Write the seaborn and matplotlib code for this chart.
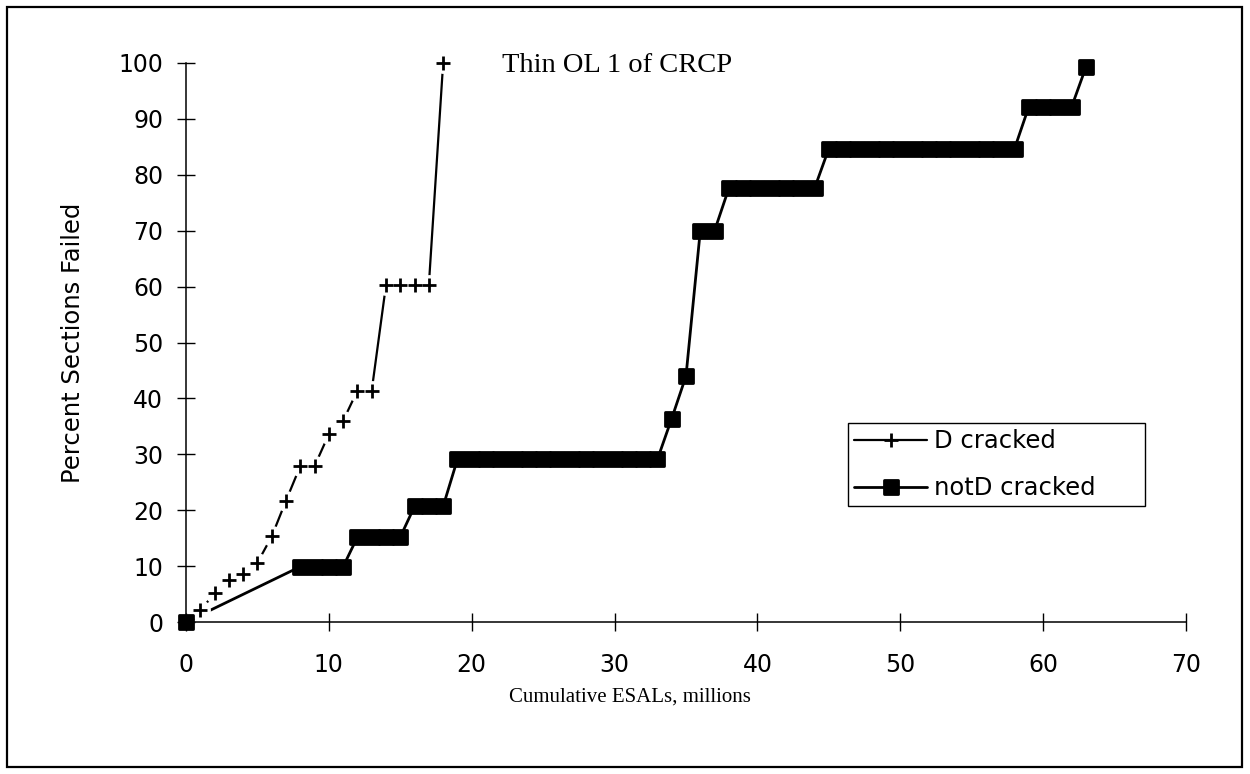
import matplotlib
matplotlib.use("Agg")
import matplotlib.pyplot as plt
import seaborn as sns
from matplotlib.markers import MarkerStyle
from matplotlib.lines import Line2D
from matplotlib.patches import Rectangle

# ---------------- data ----------------
d_label = "D cracked"
d_x = [1, 2, 3, 4, 5, 6, 7, 8, 9, 10, 11, 12, 13, 14, 15, 16, 17, 18]
d_y = [2.1, 5.1, 7.5, 8.6, 10.6, 15.3, 21.7, 27.9, 27.9, 33.6, 36.0, 41.4,
       41.4, 60.3, 60.3, 60.3, 60.3, 100.0]

n_label = "notD cracked"
n_x = [0, 8, 9, 10, 11, 12, 13, 14, 15, 16, 17, 18,
       19, 20, 21, 22, 23, 24, 25, 26, 27, 28, 29, 30, 31, 32, 33,
       34, 35, 36, 37, 38, 39, 40, 41, 42, 43, 44,
       45, 46, 47, 48, 49, 50, 51, 52, 53, 54, 55, 56, 57, 58,
       59, 60, 61, 62, 63]
n_y = [0.0, 9.9, 9.9, 9.9, 9.9, 15.2, 15.2, 15.2, 15.2, 20.7, 20.7, 20.7,
       29.1, 29.1, 29.1, 29.1, 29.1, 29.1, 29.1, 29.1, 29.1, 29.1, 29.1, 29.1, 29.1, 29.1, 29.1,
       36.4, 44.0, 70.0, 70.0, 77.6, 77.6, 77.6, 77.6, 77.6, 77.6, 77.6,
       84.7, 84.7, 84.7, 84.7, 84.7, 84.7, 84.7, 84.7, 84.7, 84.7, 84.7, 84.7, 84.7, 84.7,
       92.2, 92.2, 92.2, 92.2, 99.3]

x_ticks = [0, 10, 20, 30, 40, 50, 60, 70]
y_ticks = [0, 10, 20, 30, 40, 50, 60, 70, 80, 90, 100]

title_text = "Thin OL 1 of CRCP"
x_title = "Cumulative ESALs, millions"
y_title = "Percent Sections Failed"

# ---------------- style ----------------
sns.set_theme(style="white")
plt.rcParams["font.family"] = ["DejaVu Sans"]
plt.rcParams["text.color"] = "black"
plt.rcParams["axes.labelcolor"] = "black"
plt.rcParams["xtick.color"] = "black"
plt.rcParams["ytick.color"] = "black"
SERIF = ["Liberation Serif", "DejaVu Serif"]

W, H = 1250, 774
fig = plt.figure(figsize=(W / 100, H / 100), dpi=100)
fig.patch.set_facecolor("white")
ax = fig.add_axes([186 / W, 1 - 622 / H, 1000 / W, 559 / H])
ax.set_facecolor("white")

# outer frame
fig.patches.append(Rectangle((7 / W, 1 - 767 / H), 1235 / W, 760 / H,
                             transform=fig.transFigure, fill=False,
                             edgecolor="black", linewidth=1.6, zorder=0))

sq = MarkerStyle("s", joinstyle="round")

# notD cracked line
sns.lineplot(x=n_x, y=n_y, ax=ax, color="black", linewidth=2.0,
             estimator=None, sort=False, legend=False, zorder=2)
# D cracked line
sns.lineplot(x=d_x, y=d_y, ax=ax, color="black", linewidth=1.6,
             estimator=None, sort=False, legend=False, zorder=2)
# gaps around plus markers
ax.plot(d_x, d_y, ls="none", marker="o", ms=15, mfc="white", mec="none",
        zorder=3, clip_on=False)
# square markers
ax.plot(n_x, n_y, ls="none", marker=sq, ms=9.5, mfc="black", mec="black",
        mew=2.0, zorder=3.5, clip_on=False)
# plus markers
ax.plot(d_x, d_y, ls="none", marker="+", ms=10, mew=2.0, color="black",
        zorder=4, clip_on=False)

ax.set_xlim(0, 70)
ax.set_ylim(0, 100)
ax.set_xticks(x_ticks)
ax.set_yticks(y_ticks)
ax.set_xticklabels([str(v) for v in x_ticks])
ax.set_yticklabels([str(v) for v in y_ticks])

for s in ["top", "right"]:
    ax.spines[s].set_visible(False)
for s in ["left", "bottom"]:
    ax.spines[s].set_color("black")
    ax.spines[s].set_linewidth(1.1)
    ax.spines[s].set_zorder(2.5)

ax.tick_params(axis="both", which="major", direction="inout", length=13,
               width=1.0, color="black", labelsize=17, labelcolor="black",
               bottom=True, left=True)
ax.tick_params(axis="x", pad=16)
ax.tick_params(axis="y", pad=10)

ax.set_xlabel(x_title, fontsize=15, family=SERIF, color="black")
ax.xaxis.set_label_coords((630 - 186) / 1000, (622 - 688) / 559)
ax.set_ylabel(y_title, fontsize=17.5, color="black")
ax.yaxis.set_label_coords((85 - 186) / 1000, 0.5)

ax.text((617 - 186) / 1000, (622 - 66) / 559, title_text, transform=ax.transAxes,
        ha="center", va="center", fontsize=20.5, family=SERIF, color="black")

handles = [
    Line2D([], [], color="black", linewidth=1.6, marker="+", ms=10, mew=2.0),
    Line2D([], [], color="black", linewidth=2.0, marker=sq, ms=9.5, mew=2.0,
           mfc="black", mec="black"),
]
bx0 = (848 - 186) / 1000
by1 = (622 - 423) / 559
by0 = (622 - 507) / 559
leg = ax.legend(handles, [d_label, n_label], loc="upper left",
                bbox_to_anchor=(bx0, by0, (1145 - 848) / 1000, by1 - by0),
                mode="expand",
                frameon=True, fancybox=False, shadow=False, fontsize=17.5,
                handlelength=3.0, handletextpad=0.3, labelspacing=0.95,
                borderpad=0.25, borderaxespad=0.0, markerscale=1.0)
leg.get_frame().set_edgecolor("black")
leg.get_frame().set_linewidth(1.0)
leg.get_frame().set_facecolor("white")
leg.get_frame().set_alpha(1)
for t in leg.get_texts():
    t.set_color("black")

fig.savefig("out.png", dpi=100, facecolor="white")
